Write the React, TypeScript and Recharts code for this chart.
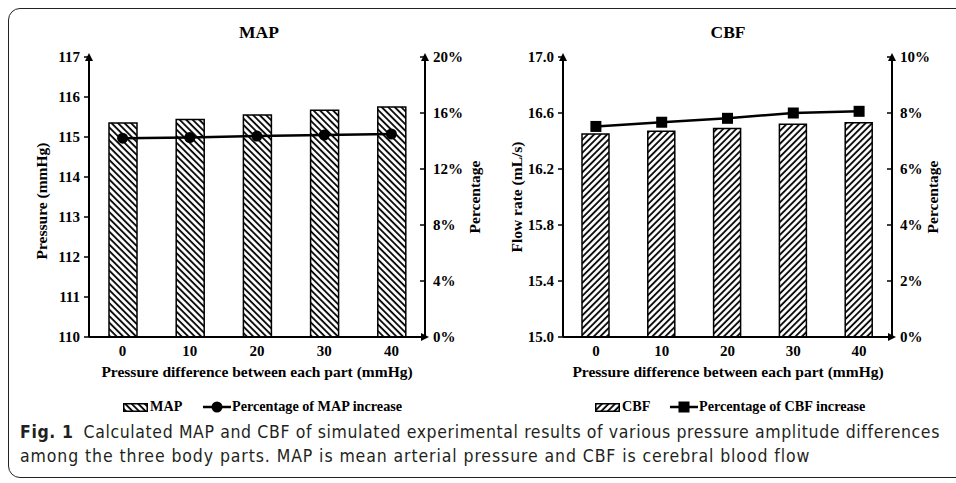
import { ComposedChart, Bar, Line, XAxis, YAxis } from 'recharts';

const pressureDiff = ['0', '10', '20', '30', '40'];
const mapValues = [115.35, 115.44, 115.55, 115.67, 115.75];
const mapIncrease = [14.2, 14.25, 14.35, 14.42, 14.5];
const cbfValues = [16.45, 16.47, 16.49, 16.52, 16.53];
const cbfIncrease = [7.52, 7.67, 7.81, 8.0, 8.06];
const mapTicks = [110, 111, 112, 113, 114, 115, 116, 117];
const mapPctTicks = [0, 4, 8, 12, 16, 20];
const cbfTicks = [15.0, 15.4, 15.8, 16.2, 16.6, 17.0];
const cbfPctTicks = [0, 2, 4, 6, 8, 10];

const serif = '"Liberation Serif", "Times New Roman", serif';

const mapData = pressureDiff.map((d, i) => ({ diff: d, value: mapValues[i], pct: mapIncrease[i] }));
const cbfData = pressureDiff.map((d, i) => ({ diff: d, value: cbfValues[i], pct: cbfIncrease[i] }));

const LeftTick = ({ x, y, payload, digits }: any) => (
  <text x={x} y={y} dy="0.35em" textAnchor="end" fontFamily={serif} fontWeight="bold" fontSize={15} fill="#000">
    {Number(payload.value).toFixed(digits)}
  </text>
);

const RightTick = ({ x, y, payload }: any) => (
  <g>
    {payload.value !== 0 && <line x1={x - 5} x2={x} y1={y} y2={y} stroke="#000" strokeWidth={1.5} />}
    <text x={x + 8} y={y} dy="0.35em" textAnchor="start" fontFamily={serif} fontWeight="bold" fontSize={15} fill="#000">
      {payload.value}%
    </text>
  </g>
);

const BottomTick = ({ x, y, payload }: any) => (
  <text x={x} y={y + 14} dy="0.35em" textAnchor="middle" fontFamily={serif} fontWeight="bold" fontSize={15} fill="#000">
    {payload.value}
  </text>
);

const CircleDot = ({ cx, cy }: any) => <circle cx={cx} cy={cy} r={5.5} fill="#000" />;
const SquareDot = ({ cx, cy }: any) => <rect x={cx - 5.5} y={cy - 5.5} width={11} height={11} fill="#000" />;

function Panel({ id, data, leftTicks, rightTicks, leftDomain, rightDomain, digits, leftWidth, rightWidth, width, barSize, angle, dot }: any) {
  const axisLine = (marker: string) => ({ stroke: '#000', strokeWidth: 2, [marker]: `url(#arrow-${id})` });
  return (
    <ComposedChart width={width} height={400} data={data} margin={{ top: 57, right: 0, bottom: 0, left: 0 }}>
      <defs>
        <pattern id={`hatch-${id}`} patternUnits="userSpaceOnUse" width={4.6} height={4.6} patternTransform={`rotate(${angle})`}>
          <rect width={4.6} height={4.6} fill="#fff" />
          <line x1={1} y1={0} x2={1} y2={4.6} stroke="#000" strokeWidth={1.8} />
        </pattern>
        <marker id={`arrow-${id}`} viewBox="0 0 10 10" refX={5} refY={5} markerWidth={4} markerHeight={4} orient="auto-start-reverse">
          <path d="M0,0 L10,5 L0,10 z" fill="#000" />
        </marker>
      </defs>
      <XAxis dataKey="diff" height={63} tickLine={false} tickSize={0} tickMargin={0} tick={<BottomTick />} axisLine={axisLine('markerEnd')} interval={0} />
      <YAxis yAxisId="left" width={leftWidth} domain={leftDomain} ticks={leftTicks} interval={0} tickSize={5} tickMargin={4}
        tickLine={{ stroke: '#000', strokeWidth: 1.5 }} tick={<LeftTick digits={digits} />} axisLine={axisLine('markerStart')} />
      <YAxis yAxisId="right" orientation="right" width={rightWidth} domain={rightDomain} ticks={rightTicks} interval={0}
        tickSize={0} tickMargin={0} tickLine={false} tick={<RightTick />} axisLine={axisLine('markerStart')} />
      <Bar yAxisId="left" dataKey="value" barSize={barSize} fill={`url(#hatch-${id})`} stroke="#000" strokeWidth={1.5} isAnimationActive={false} />
      <Line yAxisId="right" type="linear" dataKey="pct" stroke="#000" strokeWidth={2.5} dot={dot} activeDot={false} isAnimationActive={false} />
    </ComposedChart>
  );
}

const abs = (left: number, top: number, extra: any = {}) => ({ position: 'absolute' as const, left, top, ...extra });
const bold = { fontFamily: serif, fontWeight: 'bold' as const, color: '#000', whiteSpace: 'nowrap' as const };

function VLabel({ x, y, text }: any) {
  return (
    <div style={abs(x, y, { ...bold, fontSize: 15.5, transform: 'translate(-50%, -50%) rotate(-90deg)' })}>{text}</div>
  );
}

function CenterText({ x, y, text, size }: any) {
  return <div style={abs(x, y, { ...bold, fontSize: size, transform: 'translate(-50%, -50%)' })}>{text}</div>;
}

const captionFont = '"DejaVu Sans Condensed", "Liberation Sans Narrow", "Open Sans", sans-serif';

export default function App() {
  return (
    <div style={{ position: 'absolute', left: 0, top: 0, width: 956, height: 483, overflow: 'hidden', background: '#fff' }}>
      <div style={abs(8, 8, { width: 980, height: 468, border: '1.5px solid #222', borderRadius: 12 })} />
      <div style={abs(0, 0)}>
        <Panel id="map" data={mapData} leftTicks={mapTicks} rightTicks={mapPctTicks} leftDomain={[110, 117]} rightDomain={[0, 20]}
          digits={0} leftWidth={89} rightWidth={55} width={480} barSize={28} angle={-45} dot={<CircleDot />} />
      </div>
      <div style={abs(480, 0)}>
        <Panel id="cbf" data={cbfData} leftTicks={cbfTicks} rightTicks={cbfPctTicks} leftDomain={[15, 17]} rightDomain={[0, 10]}
          digits={1} leftWidth={83} rightWidth={64} width={476} barSize={27} angle={45} dot={<SquareDot />} />
      </div>

      <CenterText x={259} y={32} text="MAP" size={17.5} />
      <CenterText x={728} y={32} text="CBF" size={17.5} />
      <VLabel x={42} y={201} text="Pressure (mmHg)" />
      <VLabel x={475} y={197} text="Percentage" />
      <VLabel x={517} y={197} text="Flow rate (mL/s)" />
      <VLabel x={933} y={197} text="Percentage" />
      <CenterText x={257} y={372} text="Pressure difference between each part (mmHg)" size={15.5} />
      <CenterText x={728} y={372} text="Pressure difference between each part (mmHg)" size={15.5} />

      <svg style={abs(123, 403)} width={25} height={9}>
        <rect x={0.75} y={0.75} width={23.5} height={7.5} fill="url(#hatch-map)" stroke="#000" strokeWidth={1.5} />
      </svg>
      <div style={abs(150, 398, { ...bold, fontSize: 14.2 })}>MAP</div>
      <svg style={abs(203, 401)} width={28} height={12}>
        <line x1={0} x2={28} y1={6} y2={6} stroke="#000" strokeWidth={2.5} />
        <circle cx={14} cy={6} r={5.5} fill="#000" />
      </svg>
      <div style={abs(232, 398, { ...bold, fontSize: 14.2 })}>Percentage of MAP increase</div>

      <svg style={abs(595, 403)} width={25} height={9}>
        <rect x={0.75} y={0.75} width={23.5} height={7.5} fill="url(#hatch-cbf)" stroke="#000" strokeWidth={1.5} />
      </svg>
      <div style={abs(622, 398, { ...bold, fontSize: 14.2 })}>CBF</div>
      <svg style={abs(670, 401)} width={28} height={12}>
        <line x1={0} x2={28} y1={6} y2={6} stroke="#000" strokeWidth={2.5} />
        <rect x={8.5} y={0.5} width={11} height={11} fill="#000" />
      </svg>
      <div style={abs(699, 398, { ...bold, fontSize: 14.2 })}>Percentage of CBF increase</div>

      <div style={abs(20, 420, { fontFamily: captionFont, fontSize: 17.5, lineHeight: '24px', color: '#231f20', whiteSpace: 'nowrap' })}>
        <div style={{ letterSpacing: 0.62 }}>
          <span style={{ fontWeight: 'bold', marginRight: 10 }}>Fig. 1</span>
          <span>Calculated MAP and CBF of simulated experimental results of various pressure amplitude differences</span>
        </div>
        <div style={{ letterSpacing: 0.9 }}>among the three body parts. MAP is mean arterial pressure and CBF is cerebral blood flow</div>
      </div>
    </div>
  );
}
